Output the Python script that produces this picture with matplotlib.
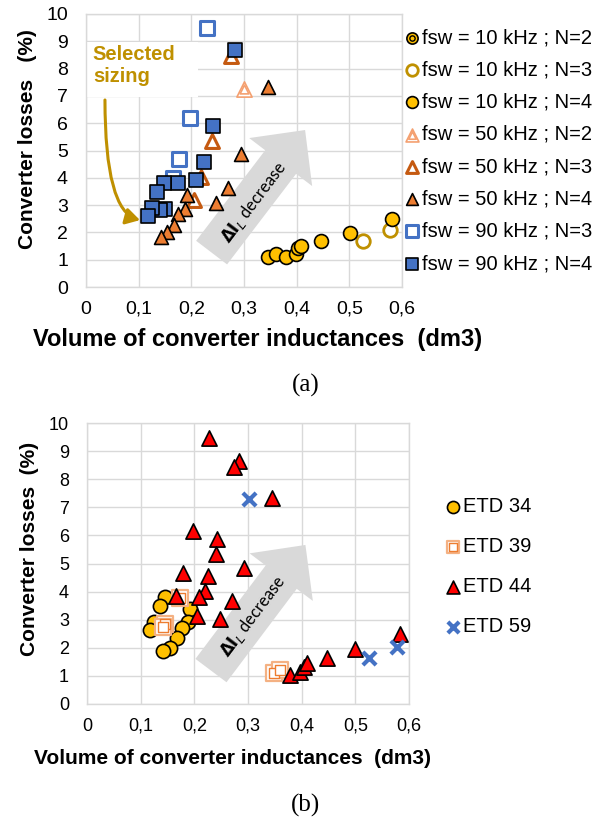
import matplotlib
matplotlib.use('Agg')
import matplotlib.pyplot as plt
from matplotlib.patches import Rectangle

plt.rcParams['font.family'] = 'Liberation Sans'

# ---------------- data : chart (a) ----------------
f10_n2_x, f10_n2_y = [], []
f10_n3_x = [0.525, 0.577]
f10_n3_y = [1.68, 2.09]
f10_n4_x = [0.346, 0.361, 0.379, 0.398, 0.402, 0.409, 0.447, 0.501, 0.581]
f10_n4_y = [1.09, 1.21, 1.09, 1.20, 1.42, 1.51, 1.70, 1.99, 2.49]
f50_n2_x = [0.300]
f50_n2_y = [7.27]
f50_n3_x = [0.275, 0.240, 0.218, 0.206]
f50_n3_y = [8.45, 5.36, 4.04, 3.19]
f50_n4_x = [0.345, 0.294, 0.269, 0.246, 0.191, 0.188, 0.175, 0.168, 0.154, 0.142]
f50_n4_y = [7.34, 4.87, 3.64, 3.06, 3.37, 2.86, 2.66, 2.27, 2.00, 1.84]
f90_n3_x = [0.229, 0.197, 0.177, 0.165]
f90_n3_y = [9.48, 6.18, 4.69, 3.98]
f90_n4_x = [0.283, 0.242, 0.224, 0.208, 0.175, 0.148, 0.134, 0.150, 0.140, 0.125, 0.118]
f90_n4_y = [8.68, 5.90, 4.59, 3.91, 3.82, 3.82, 3.49, 2.85, 2.82, 2.88, 2.60]

# ---------------- data : chart (b) ----------------
etd34_x = [0.146, 0.136, 0.192, 0.124, 0.118, 0.189, 0.177, 0.167, 0.155, 0.142]
etd34_y = [3.82, 3.50, 3.37, 2.93, 2.63, 2.93, 2.69, 2.34, 1.98, 1.90]
etd39_x = [0.174, 0.146, 0.142, 0.348, 0.360]
etd39_y = [3.78, 2.85, 2.75, 1.09, 1.21]
etd44_x = [0.228, 0.284, 0.274, 0.345, 0.198, 0.242, 0.240, 0.293, 0.178, 0.225,
           0.219, 0.209, 0.165, 0.270, 0.205, 0.247,
           0.379, 0.397, 0.404, 0.410, 0.447, 0.500, 0.583]
etd44_y = [9.46, 8.66, 8.45, 7.34, 6.16, 5.86, 5.34, 4.85, 4.65, 4.56,
           4.03, 3.82, 3.86, 3.67, 3.14, 3.02,
           1.03, 1.15, 1.33, 1.45, 1.65, 1.95, 2.48]
etd59_x = [0.301, 0.525, 0.578]
etd59_y = [7.28, 1.65, 2.04]

xticks = [0, 0.1, 0.2, 0.3, 0.4, 0.5, 0.6]
xtick_labels = ['0', '0,1', '0,2', '0,3', '0,4', '0,5', '0,6']
yticks = list(range(0, 11))

YELLOW = '#FFC000'
GOLD = '#BF9000'
ORANGE = '#ED7D31'
DKORANGE = '#C55A11'
LTORANGE = '#F4A070'
BLUE = '#4472C4'
GRID = '#D9D9D9'

fig = plt.figure(figsize=(6.12, 8.25), dpi=100)


def style_axes(ax, tick_fs):
    ax.set_xlim(0, 0.6)
    ax.set_ylim(0, 10)
    ax.set_xticks(xticks, xtick_labels)
    ax.set_yticks(yticks)
    ax.set_axisbelow(True)
    ax.grid(True, color=GRID, lw=1.0)
    for s in ax.spines.values():
        s.set_color(GRID)
        s.set_linewidth(1.0)
    ax.tick_params(length=0, labelsize=tick_fs)
    ax.tick_params(axis='y', pad=13)
    ax.tick_params(axis='x', pad=10)


def big_arrow(ax, tail, tip, txt_xy):
    ax.annotate('', xy=tip, xytext=tail, xycoords='data',
                arrowprops=dict(arrowstyle='simple,head_length=29,head_width=57,tail_width=28',
                                mutation_scale=1, fc='#D9D9D9', ec='none',
                                shrinkA=0, shrinkB=0), zorder=1.5)
    ax.text(txt_xy[0], txt_xy[1], r'$\mathbf{\Delta I}_{L}$ decrease', rotation=53,
            ha='center', va='center', fontsize=12, family='Lato', zorder=1.6)


# ================= chart (a) =================
ax = fig.add_axes([86 / 612, 1 - 287 / 825, 316 / 612, 273 / 825])
style_axes(ax, 14)

big_arrow(ax, (0.2385, 1.26), (0.416, 5.75), (0.32, 3.12))

ax.add_patch(Rectangle((0, 0.696), 0.354, 0.201, transform=ax.transAxes,
                       fc='white', ec='none', zorder=1))
ax.text(0.013, 8.85, 'Selected\nsizing', color=GOLD, fontsize=14.5,
        fontweight='bold', ha='left', va='top', zorder=2)
ax.annotate('', xy=(0.1025, 2.45), xytext=(0.036, 6.85),
            arrowprops=dict(arrowstyle='-|>,head_length=0.6,head_width=0.35',
                            connectionstyle='angle3,angleA=90,angleB=-15', color=GOLD, lw=2.2,
                            mutation_scale=14, shrinkA=0, shrinkB=0), zorder=2)

h1a = ax.scatter(f10_n2_x, f10_n2_y, s=90, marker='o', fc=YELLOW, ec='black', lw=1.2, zorder=3)
h1b = ax.scatter(f10_n2_x, f10_n2_y, s=20, marker='o', fc=YELLOW, ec='black', lw=1.0, zorder=3)
h2 = ax.scatter(f10_n3_x, f10_n3_y, s=95, marker='o', fc='white', ec=GOLD, lw=2.0, zorder=3)
h3 = ax.scatter(f10_n4_x, f10_n4_y, s=100, marker='o', fc=YELLOW, ec='black', lw=1.2, zorder=3)
h4a = ax.scatter(f50_n2_x, f50_n2_y, s=120, marker='^', fc='white', ec=LTORANGE, lw=1.2, zorder=3)
h4b = ax.scatter(f50_n2_x, f50_n2_y, s=40, marker='^', fc='white', ec=LTORANGE, lw=1.2, zorder=3)
h5 = ax.scatter(f50_n3_x, f50_n3_y, s=100, marker='^', fc='white', ec=DKORANGE, lw=2.2, zorder=3)
h6 = ax.scatter(f50_n4_x, f50_n4_y, s=100, marker='^', fc=ORANGE, ec='black', lw=1.2, zorder=3)
h7 = ax.scatter(f90_n3_x, f90_n3_y, s=100, marker='s', fc='white', ec=BLUE, lw=2.2, zorder=3)
h8 = ax.scatter(f90_n4_x, f90_n4_y, s=115, marker='s', fc=BLUE, ec='black', lw=1.2, zorder=3)

labels_a = ['fsw = 10 kHz ; N=2', 'fsw = 10 kHz ; N=3', 'fsw = 10 kHz ; N=4',
            'fsw = 50 kHz ; N=2', 'fsw = 50 kHz ; N=3', 'fsw = 50 kHz ; N=4',
            'fsw = 90 kHz ; N=3', 'fsw = 90 kHz ; N=4']
fig.legend([(h1a, h1b), h2, h3, (h4a, h4b), h5, h6, h7, h8], labels_a,
           loc='upper left', bbox_to_anchor=(405 / 612, 1 - 28 / 825),
           frameon=False, fontsize=14.5, labelspacing=0.66, handlelength=0.7,
           handletextpad=0.15, borderpad=0, borderaxespad=0, markerscale=0.85)

ax.set_xlabel('Volume of converter inductances  (dm3)', fontsize=17, fontweight='bold')
ax.xaxis.set_label_coords(0.544, -0.15)
ax.set_ylabel('Converter losses   (%)', fontsize=15, fontweight='bold')
ax.yaxis.set_label_coords(-0.155, 0.542)

fig.text(306 / 612, 1 - 385 / 825, '(a)', family='Liberation Serif', fontsize=18,
         ha='center', va='center')

# ================= chart (b) =================
bx = fig.add_axes([87 / 612, 1 - 704 / 825, 322 / 612, 281 / 825])
style_axes(bx, 13)

big_arrow(bx, (0.231, 1.19), (0.407, 5.66), (0.31, 3.11))

g1 = bx.scatter(etd34_x, etd34_y, s=105, marker='o', fc=YELLOW, ec='black', lw=1.2, zorder=3)
g2a = bx.scatter(etd39_x, etd39_y, s=120, marker='s', fc='white', ec='#F4B183', lw=1.6, zorder=3)
g2b = bx.scatter(etd39_x, etd39_y, s=50, marker='s', fc='white', ec=ORANGE, lw=1.0, zorder=3)
g3 = bx.scatter(etd44_x, etd44_y, s=120, marker='^', fc='#FF0000', ec='black', lw=1.2, zorder=3)
g4 = bx.scatter(etd59_x, etd59_y, s=90, marker='x', c=BLUE, lw=3.0, zorder=3)

fig.legend([g1, (g2a, g2b), g3, g4], ['ETD 34', 'ETD 39', 'ETD 44', 'ETD 59'],
           loc='upper left', bbox_to_anchor=(446 / 612, 1 - 497 / 825),
           frameon=False, fontsize=14.5, labelspacing=1.05, handlelength=0.7,
           handletextpad=0.15, borderpad=0, borderaxespad=0, markerscale=0.85)

bx.set_xlabel('Volume of converter inductances  (dm3)', fontsize=15, fontweight='bold')
bx.xaxis.set_label_coords(0.453, -0.16)
bx.set_ylabel('Converter losses  (%)', fontsize=15, fontweight='bold')
bx.yaxis.set_label_coords(-0.15, 0.552)

fig.text(306 / 612, 1 - 805 / 825, '(b)', family='Liberation Serif', fontsize=18,
         ha='center', va='center')

fig.savefig('out.png', dpi=100, facecolor='white')
